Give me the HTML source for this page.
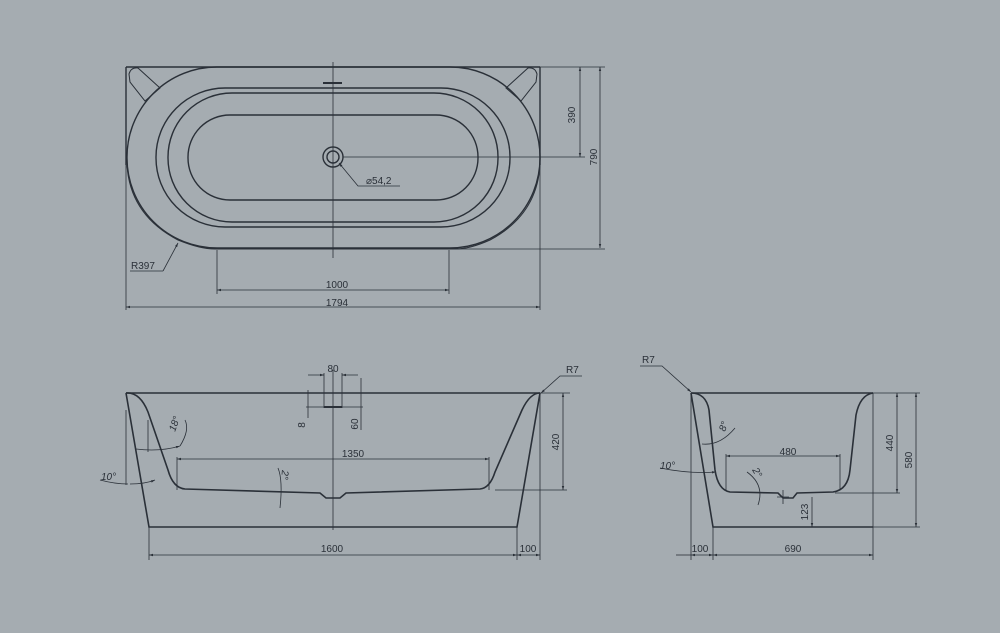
<!DOCTYPE html>
<html><head><meta charset="utf-8"><style>
html,body{margin:0;padding:0;background:#a5acb1;}
svg{display:block}
text{font-family:"Liberation Sans",sans-serif;font-size:10px;fill:#2a3038}
</style></head><body>
<svg width="1000" height="633" viewBox="0 0 1000 633" xmlns="http://www.w3.org/2000/svg">
<rect width="1000" height="633" fill="#a5acb1"/>
<defs>
<marker id="a" viewBox="0 0 10 10" refX="10" refY="5" markerWidth="7" markerHeight="5" orient="auto-start-reverse"><path d="M0,2 L10,5 L0,8 Z" fill="#2a3038"/></marker>
</defs>
<g fill="none" stroke="#2a3038">
<!-- TOP VIEW -->
<g stroke-width="1.4">
<path d="M126,67 L540,67"/>
<path d="M126,67 L126,165 M540,67 L540,165"/>
<rect x="127" y="67" width="413" height="181" rx="90" ry="90"/>
<path d="M127,165 Q130,215 178,240 Q200,249 215,249 L455,249 Q470,249 490,240 Q537,215 540,165" stroke-width="1"/>
<rect x="156" y="88" width="354" height="139" rx="69" ry="69"/>
<rect x="168" y="93" width="330" height="129" rx="64" ry="64"/>
<rect x="188" y="115" width="290" height="85" rx="42" ry="42"/>
<path d="M129,74 Q131,67 138,68 L160,88 L145,101 L130,82 Z" stroke-width="1"/>
<path d="M537,74 Q535,67 528,68 L506,88 L521,101 L536,82 Z" stroke-width="1"/>
<circle cx="333" cy="157" r="10"/>
<circle cx="333" cy="157" r="6"/>
<path d="M323,83 L342,83" stroke-width="2"/>
</g>
<g stroke-width="0.8">
<path d="M333,62 L333,258"/>
<path d="M540,67 L605,67 M343,157 L585,157 M455,249 L605,249"/>
<path d="M580,67 L580,157" marker-start="url(#a)" marker-end="url(#a)"/>
<path d="M600,67 L600,248" marker-start="url(#a)" marker-end="url(#a)"/>
<path d="M217,250 L217,294 M449,250 L449,294"/>
<path d="M217,290 L449,290" marker-start="url(#a)" marker-end="url(#a)"/>
<path d="M126,165 L126,310 M540,165 L540,310"/>
<path d="M126,307 L540,307" marker-start="url(#a)" marker-end="url(#a)"/>
<path d="M163,271 L178,243" marker-end="url(#a)"/>
<path d="M130,271 L163,271"/>
<path d="M400,186 L358,186 L339,163" marker-end="url(#a)"/>
</g>
<!-- SIDE VIEW -->
<g stroke-width="1.6">
<path d="M126,393 L540,393"/>
<path d="M126,393 L149,527 L517,527 L540,393"/>
<path d="M126,393 Q140,392 148,412 L168,470 Q173,488 185,489 L320,493 L326,498 L340,498 L346,493 L480,489 Q490,488 495,472 L522,410 Q530,393 540,393"/>
</g>
<g stroke-width="0.8">
<path d="M333,370 L333,530"/>
<path d="M324,373 L324,408 M342,373 L342,408"/>
<path d="M308,375 L324,375 M342,375 L358,375" />
<path d="M322,375 L324,375" marker-end="url(#a)"/><path d="M344,375 L342,375" marker-end="url(#a)"/>
<path d="M324,407 L342,407" stroke-width="2"/>
<path d="M306,407 L363,407"/>
<path d="M308,390 L308,418"/>
<path d="M361,378 L361,430"/>
<path d="M177,457 L177,490 M489,457 L489,490"/>
<path d="M177,459 L489,459" marker-start="url(#a)" marker-end="url(#a)"/>
<path d="M495,490 L567,490"/>
<path d="M563,393 L563,490" marker-start="url(#a)" marker-end="url(#a)"/>
<path d="M540,393 L570,393"/>
<path d="M149,527 L149,560 M517,527 L517,560 M540,393 L540,560"/>
<path d="M149,555 L517,555" marker-start="url(#a)" marker-end="url(#a)"/>
<path d="M517,555 L540,555" marker-start="url(#a)" marker-end="url(#a)"/>
<path d="M582,376 L560,376 L541,393" marker-end="url(#a)"/>
<path d="M126,410 L126,485 M148,420 L148,452"/>
<path d="M136,449 Q160,452 180,446" marker-end="url(#a)"/>
<path d="M180,446 Q190,430 185,420"/>
<path d="M100,480 Q115,484 128,484" /><path d="M130,484 Q145,484 155,480" marker-end="url(#a)"/>
<path d="M278,468 Q283,480 280,508"/>
</g>
<!-- END VIEW -->
<g stroke-width="1.6">
<path d="M691,393 L873,393"/>
<path d="M691,393 L713,527 L873,527"/>
<path d="M691,393 Q706,393 709,410 L715,470 Q718,490 730,492 L778,493 L783,498 L793,498 L797,493 L833,492 Q848,490 850,470 L856,415 Q860,395 873,393"/>
</g>
<g stroke-width="0.8">
<path d="M873,393 L873,560 M691,393 L691,560 M713,527 L713,560"/>
<path d="M873,393 L920,393 M835,493 L900,493 M873,527 L920,527"/>
<path d="M897,393 L897,493" marker-start="url(#a)" marker-end="url(#a)"/>
<path d="M916,393 L916,527" marker-start="url(#a)" marker-end="url(#a)"/>
<path d="M726,454 L726,490 M840,454 L840,490"/>
<path d="M726,456 L840,456" marker-start="url(#a)" marker-end="url(#a)"/>
<path d="M812,497 L812,527" marker-end="url(#a)"/>
<path d="M783,490 L783,504 M777,497 L789,497"/>
<path d="M691,555 L713,555" marker-start="url(#a)" marker-end="url(#a)"/>
<path d="M676,555 L691,555"/>
<path d="M713,555 L873,555" marker-start="url(#a)" marker-end="url(#a)"/>
<path d="M640,366 L662,366 L691,392" marker-end="url(#a)"/>
<path d="M702,444 Q720,446 735,428"/>
<path d="M660,468 Q690,474 716,472" marker-end="url(#a)"/>
<path d="M747,472 Q765,485 758,505"/>
</g>
</g>
<!-- TEXT -->
<text x="575" y="115" text-anchor="middle" transform="rotate(-90 575 115)">390</text>
<text x="597" y="157" text-anchor="middle" transform="rotate(-90 597 157)">790</text>
<text x="337" y="288" text-anchor="middle">1000</text>
<text x="337" y="306" text-anchor="middle">1794</text>
<text x="131" y="269">R397</text>
<text x="366" y="184">⌀54,2</text>
<text x="333" y="372" text-anchor="middle">80</text>
<text x="305" y="425" text-anchor="middle" transform="rotate(-90 305 425)">8</text>
<text x="358" y="424" text-anchor="middle" transform="rotate(-90 358 424)">60</text>
<text x="353" y="457" text-anchor="middle">1350</text>
<text x="559" y="442" text-anchor="middle" transform="rotate(-90 559 442)">420</text>
<text x="332" y="552" text-anchor="middle">1600</text>
<text x="528" y="552" text-anchor="middle">100</text>
<text x="566" y="373">R7</text>
<text x="175" y="432" transform="rotate(-70 175 432)" style="font-style:italic">18°</text>
<text x="101" y="480" style="font-style:italic">10°</text>
<text x="282" y="470" transform="rotate(95 282 470)" style="font-style:italic">2°</text>
<text x="642" y="363">R7</text>
<text x="725" y="432" transform="rotate(-70 725 432)" style="font-style:italic">8°</text>
<text x="660" y="469" style="font-style:italic">10°</text>
<text x="752" y="470" transform="rotate(60 752 470)" style="font-style:italic">2°</text>
<text x="788" y="455" text-anchor="middle">480</text>
<text x="893" y="443" text-anchor="middle" transform="rotate(-90 893 443)">440</text>
<text x="912" y="460" text-anchor="middle" transform="rotate(-90 912 460)">580</text>
<text x="808" y="512" text-anchor="middle" transform="rotate(-90 808 512)">123</text>
<text x="700" y="552" text-anchor="middle">100</text>
<text x="793" y="552" text-anchor="middle">690</text>
</svg>
</body></html>
